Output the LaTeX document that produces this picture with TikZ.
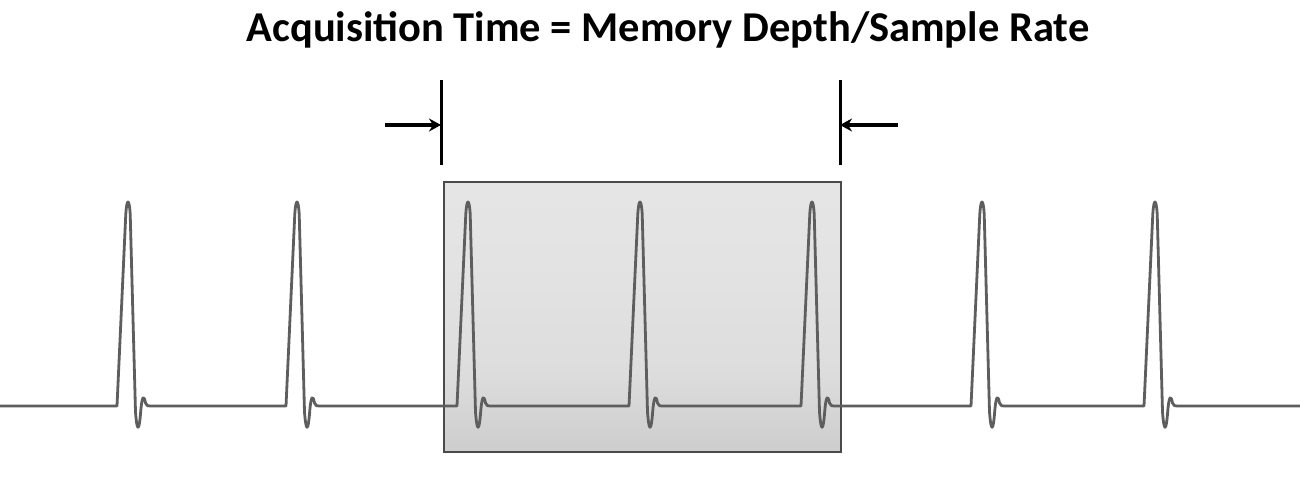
\documentclass[tikz,border=0pt]{standalone}
\usepackage{fontspec}
\setmainfont{Carlito}
\usetikzlibrary{arrows.meta}
\definecolor{shadebot}{HTML}{B9B9B9}
\definecolor{shadelow}{HTML}{C8C8C8}
\definecolor{shademid}{HTML}{DDDDDD}
\definecolor{shadeup}{HTML}{E3E3E3}
\definecolor{shadetop}{HTML}{E9E9E9}
\definecolor{wave}{HTML}{5E5E5E}
\definecolor{boxline}{HTML}{4A4A4A}
\pgfdeclareverticalshading{acqshade}{100bp}{
  color(0bp)=(shadebot); color(20bp)=(shadelow); color(40bp)=(shademid); color(60bp)=(shadeup); color(100bp)=(shadetop)}
\tikzset{
  waveline/.style={draw=wave, line width=2.8pt, line join=round},
  marker/.style={draw=black, line width=3pt},
  dimarrow/.style={draw=black, line width=4.2pt, -{Stealth[length=12pt,width=13pt]}},
  acqbox/.style={draw=boxline, line width=1.6pt, shading=acqshade, minimum width=397pt, minimum height=270pt, inner sep=0pt, anchor=north west},
  titletext/.style={font=\bfseries\fontsize{42.5}{48}\selectfont, text=black, inner sep=0pt, anchor=base}
}
\newcommand{\pulse}[1]{%
  -- (#1-11,406) -- (#1-2.2,214)
  .. controls (#1-1.2,198) and (#1+1.2,198) .. (#1+2.2,214)
  -- (#1+7.5,412)
  .. controls (#1+9,432) and (#1+11,432) .. (#1+12.5,414)
  .. controls (#1+14,394) and (#1+16,395) .. (#1+17.5,403)
  .. controls (#1+18.5,406) and (#1+20,406) .. (#1+22,406)}
\begin{document}
\begin{tikzpicture}[x=1pt,y=-1pt]
\useasboundingbox (0,0) rectangle (1300,489);
\node[acqbox] (acq) at (443,181) {};
\node[titletext] (title) at (668,42) {Acquisition Time = Memory Depth/Sample Rate};
\coordinate (w0) at (0,406);
\coordinate (w1) at (1300,406);
\draw[waveline] (w0) \pulse{128} \pulse{297} \pulse{468} \pulse{640} \pulse{812} \pulse{982} \pulse{1155} -- (w1);
\coordinate (lt) at (441,80);
\coordinate (lb) at (441,165);
\coordinate (rt) at (840,80);
\coordinate (rb) at (840,165);
\draw[marker] (lt) -- (lb);
\draw[marker] (rt) -- (rb);
\coordinate (la) at (385,125);
\coordinate (lh) at (441,125);
\coordinate (ra) at (898,125);
\coordinate (rh) at (840,125);
\draw[dimarrow] (la) -- (lh);
\draw[dimarrow] (ra) -- (rh);
\end{tikzpicture}
\end{document}
